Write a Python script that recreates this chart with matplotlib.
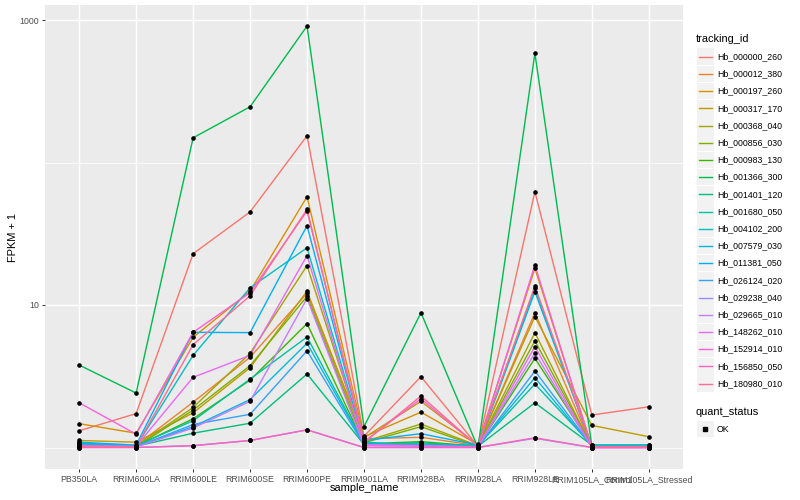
import matplotlib
matplotlib.use("Agg")
import matplotlib.pyplot as plt
from matplotlib.lines import Line2D
from matplotlib.patches import Rectangle
from matplotlib.ticker import FixedLocator, NullFormatter

plt.rcParams['font.family'] = ['Liberation Sans', 'DejaVu Sans']

samples = ["PB350LA", "RRIM600LA", "RRIM600LE", "RRIM600SE", "RRIM600PE",
           "RRIM901LA", "RRIM928BA", "RRIM928LA", "RRIM928LE",
           "RRIM105LA_Control", "RRIM105LA_Stressed"]

tracking_ids = ["Hb_000000_260", "Hb_000012_380", "Hb_000197_260", "Hb_000317_170",
                "Hb_000368_040", "Hb_000856_030", "Hb_000983_130", "Hb_001366_300",
                "Hb_001401_120", "Hb_001680_050", "Hb_004102_200", "Hb_007579_030",
                "Hb_011381_050", "Hb_026124_020", "Hb_029238_040", "Hb_029665_010",
                "Hb_148262_010", "Hb_152914_010", "Hb_156850_050", "Hb_180980_010"]

colors = ["#F8766D", "#EA8331", "#D89000", "#C09B00", "#A3A500", "#7CAE00",
          "#39B600", "#00BB4E", "#00BF7D", "#00C1A3", "#00BFC4", "#00BAE0",
          "#00B0F6", "#35A2FF", "#9590FF", "#C77CFF", "#E76BF3", "#FA62DB",
          "#FF62BC", "#FF6C91"]

# FPKM + 1 per tracking id, across samples
v00 = [1.31, 1.73, 22.9, 45.0, 154, 1.20, 3.14, 1.02, 62.4, 1.69, 1.93]
v01 = [1.05, 1.03, 2.08, 4.30, 12.1, 1.15, 1.18, 1.03, 8.83, 1.01, 1.01]
v02 = [1.47, 1.26, 5.93, 12.5, 57.5, 1.19, 1.77, 1.05, 18.1, 1.02, 1.02]
v03 = [1.12, 1.09, 1.75, 3.63, 12.5, 1.17, 2.11, 1.04, 8.29, 1.43, 1.19]
v04 = [1.04, 1.02, 1.91, 4.58, 18.9, 1.10, 1.46, 1.03, 6.39, 1.01, 1.01]
v05 = [1.03, 1.01, 1.83, 3.75, 11.5, 1.08, 1.40, 1.02, 5.60, 1.02, 1.02]
v06 = [1.06, 1.02, 1.59, 2.97, 7.40, 1.06, 1.10, 1.02, 4.22, 1.03, 1.03]
v07 = [3.79, 2.41, 149, 246, 907, 1.40, 8.83, 1.00, 584, 1.03, 1.03]
v08 = [1.08, 1.02, 1.26, 1.48, 3.28, 1.05, 1.08, 1.02, 2.06, 1.04, 1.04]
v09 = [1.07, 1.03, 1.54, 3.02, 5.96, 1.06, 1.06, 1.03, 2.79, 1.04, 1.04]
v10 = [1.06, 1.02, 4.43, 13.2, 25.2, 1.09, 1.04, 1.02, 12.4, 1.03, 1.03]
v11 = [1.05, 1.02, 1.40, 2.17, 5.39, 1.05, 1.04, 1.02, 3.09, 1.02, 1.02]
v12 = [1.09, 1.04, 6.43, 6.40, 36.0, 1.12, 1.25, 1.04, 13.1, 1.01, 1.01]
v13 = [1.04, 1.01, 1.45, 1.71, 4.77, 1.04, 1.03, 1.01, 3.44, 1.02, 1.02]
v14 = [1.00, 1.00, 1.03, 1.12, 1.33, 1.00, 1.00, 1.00, 1.16, 1.00, 1.00]
v15 = [1.02, 1.01, 1.37, 2.11, 11.1, 1.03, 1.02, 1.01, 4.60, 1.00, 1.00]
v16 = [1.03, 1.02, 3.11, 4.43, 22.2, 1.05, 1.03, 1.01, 5.10, 1.00, 1.00]
v17 = [2.06, 1.24, 6.43, 12.2, 45.7, 1.10, 2.20, 1.02, 19.1, 1.00, 1.00]
v18 = [1.00, 1.00, 1.03, 1.12, 1.33, 1.00, 1.00, 1.00, 1.17, 1.00, 1.00]
v19 = [1.02, 1.01, 5.27, 11.6, 47.0, 1.08, 2.30, 1.02, 13.6, 1.01, 1.01]

values = [v00, v01, v02, v03, v04, v05, v06, v07, v08, v09,
          v10, v11, v12, v13, v14, v15, v16, v17, v18, v19]

W, H = 800, 500
fig = plt.figure(figsize=(W / 100, H / 100), dpi=100)
px = 0.72  # points per pixel at dpi 100

left, right, top, bottom = 45, 683, 5, 469
ax = fig.add_axes([left / W, 1 - bottom / H, (right - left) / W, (bottom - top) / H])
ax.set_facecolor("#EBEBEB")
for s in ax.spines.values():
    s.set_visible(False)

xs = list(range(len(samples)))
ax.set_yscale("log")
ax.set_xlim(-0.6, len(samples) - 1 + 0.6)
ax.set_ylim(10 ** (-21.5 / 142.5), 10 ** (3 + 15 / 142.5))

# grid
for yv in [1, 100]:
    ax.axhline(yv, color="white", lw=0.75 * px, zorder=0.5)
for yv in [10, 1000]:
    ax.axhline(yv, color="white", lw=1.45 * px, zorder=0.6)
for xv in xs:
    ax.axvline(xv, color="white", lw=1.45 * px, zorder=0.6)

for vals, c in zip(values, colors):
    ax.plot(xs, vals, color=c, lw=1.4 * px, zorder=2, solid_capstyle="butt")
for vals in values:
    ax.plot(xs, vals, ls="none", marker="o", ms=3.2 * px, color="black",
            mec="black", zorder=3)

ax.yaxis.set_major_locator(FixedLocator([10, 1000]))
ax.yaxis.set_minor_locator(FixedLocator([]))
ax.yaxis.set_minor_formatter(NullFormatter())
ax.set_yticklabels(["10", "1000"])
ax.set_xticks(xs)
ax.set_xticklabels(samples)
ax.tick_params(axis="both", which="major", length=3 * px, width=1 * px,
               color="#333333", labelcolor="#4D4D4D", labelsize=8.8 * px, pad=2)

fig.text((left + right) / 2 / W, 1 - 488 / H, "sample_name", ha="center", va="center",
         fontsize=11 * px, color="black")
fig.text(13 / W, 1 - (top + bottom) / 2 / H, "FPKM + 1", ha="center", va="center",
         rotation=90, fontsize=11 * px, color="black")

# legend (pixel coordinates)
def fx(x):
    return x / W

def fy(y):
    return 1 - y / H

fig.text(fx(696), fy(39), "tracking_id", ha="left", va="center", fontsize=11 * px)
y0, dy = 56.7, 17.2
for i, (tid, c) in enumerate(zip(tracking_ids, colors)):
    yc = y0 + i * dy
    fig.add_artist(Rectangle((fx(697), fy(yc + 8.3)), 16.6 / W, 16.6 / H,
                             facecolor="#F2F2F2", edgecolor="none"))
    fig.add_artist(Line2D([fx(698.5), fx(712)], [fy(yc), fy(yc)], color=c,
                          lw=1.4 * px))
    fig.text(fx(717), fy(yc), tid, ha="left", va="center", fontsize=8.8 * px)

fig.text(fx(696), fy(412), "quant_status", ha="left", va="center", fontsize=11 * px)
fig.add_artist(Rectangle((fx(697), fy(429 + 8.3)), 16.6 / W, 16.6 / H,
                         facecolor="#F2F2F2", edgecolor="none"))
fig.add_artist(Line2D([fx(705)], [fy(429)], ls="none", marker="s",
                      ms=3.2 * px, color="black"))
fig.text(fx(717), fy(429), "OK", ha="left", va="center", fontsize=8.8 * px)

fig.savefig("out.png", dpi=100)
